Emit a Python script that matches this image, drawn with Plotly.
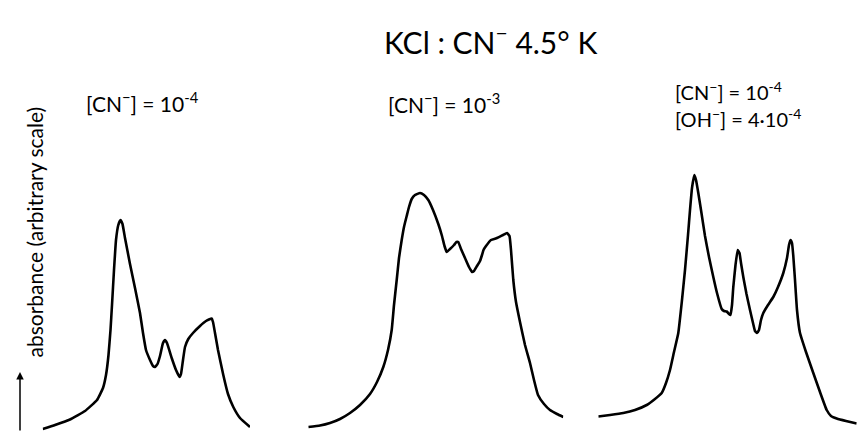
import plotly.graph_objects as go

W, H = 860, 434

# Digitised absorption spectra, one list per sample (position, absorbance),
# both in arbitrary units; position is offset from the start of each trace.
cn_1e4_pos = [0, 12.3, 27.3, 42.3, 54.3, 60.3, 63.3, 65.8, 67.8, 69.3, 71.3, 73.3, 75.6, 77.8, 79.8, 82.3,
              87.3, 92.3, 97.3, 100.3, 103.3, 107.3, 110.3, 112.3, 114.8, 117.3, 120.3, 122.3, 124.3, 129.0,
              133.3, 136.8, 138.3, 140.3, 142.3, 145.6, 150.3, 157.3, 163.3, 169.0, 170.3, 172.3, 175.3,
              180.6, 185.3, 190.6, 197.3, 207.3]
cn_1e4_abs = [0.5, 0.9, 1.45, 2.3, 3.4, 4.6, 5.9, 7.9, 10.4, 12.9, 16.4, 19.4, 20.9, 21.4, 21.0, 19.6,
              17.0, 14.6, 12.1, 10.1, 8.4, 7.4, 6.8, 6.7, 7.0, 7.8, 9.1, 9.4, 9.1, 7.6,
              6.4, 5.7, 6.0, 7.4, 8.7, 9.5, 10.1, 10.8, 11.3, 11.55, 11.2, 10.1, 8.4,
              5.9, 4.0, 2.7, 1.6, 0.7]

cn_1e3_pos = [0, 11.7, 21.7, 31.7, 41.7, 51.7, 61.7, 68.7, 75.0, 79.7, 83.4, 85.7, 88.4, 90.7, 93.4, 95.7,
              98.4, 100.7, 103.4, 106.7, 111.7, 115.7, 120.0, 124.7, 130.0, 133.7, 136.2, 138.4, 141.7,
              145.7, 148.2, 150.0, 152.7, 156.7, 160.7, 163.7, 165.7, 168.7, 171.7, 173.7, 175.2, 177.7,
              182.7, 188.7, 194.7, 198.7, 201.2, 202.7, 205.0, 207.7, 211.7, 216.7, 221.7, 225.7, 229.7,
              235.7, 241.7, 248.7, 255.0]
cn_1e3_abs = [0.7, 0.85, 1.1, 1.5, 2.1, 2.9, 4.0, 5.2, 6.7, 8.4, 10.4, 12.9, 15.4, 17.6, 19.4, 20.7,
              21.8, 22.7, 23.5, 23.9, 24.1, 23.9, 23.4, 22.4, 21.0, 19.8, 18.8, 18.2, 18.5,
              18.9, 19.2, 19.2, 18.5, 17.6, 16.7, 16.2, 16.3, 16.8, 17.3, 17.9, 18.4, 18.8,
              19.4, 19.6, 19.9, 20.1, 19.8, 18.4, 15.4, 13.2, 11.2, 8.9, 7.1, 5.4, 3.9,
              3.0, 2.4, 2.0, 1.7]

cn_oh_pos = [0, 11.7, 25.0, 36.7, 48.4, 56.7, 63.4, 67.7, 71.7, 75.7, 80.0, 83.7, 86.7, 89.7, 91.7, 93.7,
             96.0, 97.7, 100.0, 102.7, 106.7, 110.7, 115.0, 118.7, 123.4, 125.7, 128.4, 130.7, 132.2,
             133.7, 135.0, 137.2, 139.4, 141.2, 142.7, 145.0, 148.2, 151.7, 154.7, 156.7, 158.7, 160.7,
             162.7, 165.0, 169.7, 175.0, 179.7, 185.0, 188.7, 190.7, 192.2, 193.7, 195.0, 196.7, 198.7,
             201.7, 207.7, 215.0, 221.7, 228.4, 232.7, 238.4, 247.7, 258.4]
cn_oh_abs = [1.75, 1.9, 2.1, 2.4, 2.9, 3.5, 4.1, 5.1, 6.4, 8.2, 10.1, 13.4, 16.4, 19.9, 22.4, 24.6,
             25.9, 25.4, 24.1, 22.4, 19.8, 17.7, 15.7, 14.1, 12.5, 12.3, 12.25, 12.0, 11.9,
             12.9, 14.7, 16.9, 18.4, 18.1, 17.1, 15.7, 14.0, 12.4, 11.1, 10.3, 10.1, 10.4,
             11.4, 12.1, 12.9, 13.7, 14.7, 16.1, 17.6, 18.9, 19.4, 19.1, 17.8, 15.4, 12.4,
             10.1, 8.2, 6.1, 4.2, 2.4, 1.8, 1.55, 1.3, 1.05]

# Horizontal extent (in pixels) of each trace's panel
panels = [(42.7, 250.0), (308.3, 563.3), (598.3, 856.7)]
series = [(cn_1e4_pos, cn_1e4_abs), (cn_1e3_pos, cn_1e3_abs), (cn_oh_pos, cn_oh_abs)]

fig = go.Figure()
for i, ((left, right), (xs, ys)) in enumerate(zip(panels, series), start=1):
    ax = "x" if i == 1 else f"x{i}"
    fig.add_trace(go.Scatter(x=xs, y=ys, mode="lines", xaxis=ax, yaxis="y",
                             line=dict(color="black", width=2.6, shape="spline", smoothing=0.35),
                             showlegend=False, hoverinfo="skip"))
    key = "xaxis" if i == 1 else f"xaxis{i}"
    fig.layout[key] = dict(domain=[left / W, right / W], range=[0, right - left],
                           visible=False, fixedrange=True)

fig.update_layout(
    width=W, height=H,
    margin=dict(l=0, r=0, t=0, b=0),
    paper_bgcolor="white", plot_bgcolor="white",
    yaxis=dict(range=[0, 43.4], visible=False, domain=[0, 1]),
)

FONT = "Lato"

def px(x, y):
    return x / W, 1 - y / H

notes = [
    ("KCl : CN<sup>−</sup> 4.5° K", 490, 40, 30, "center"),
    ("[CN<sup>−</sup>] = 10<sup>-4</sup>", 142, 102, 21, "center"),
    ("[CN<sup>−</sup>] = 10<sup>-3</sup>", 444, 103, 21, "center"),
    ("[CN<sup>−</sup>] = 10<sup>-4</sup>", 673, 91, 20, "left"),
    ("[OH<sup>−</sup>] = 4·10<sup>-4</sup>", 673, 118, 20, "left"),
]
for text, x, y, size, align in notes:
    xp, yp = px(x, y)
    fig.add_annotation(text=text, x=xp, y=yp, xref="paper", yref="paper", showarrow=False,
                       xanchor="center" if align == "center" else "left", yanchor="middle",
                       font=dict(family=FONT, size=size, color="black"))

# Vertical axis caption with its upward arrow
xp, yp = px(19, 232)
fig.add_annotation(text="absorbance (arbitrary scale)", x=xp, y=yp, xref="paper", yref="paper",
                   showarrow=False, textangle=-90, font=dict(family=FONT, size=21, color="black"))
xp, yp = px(20, 372)
fig.add_annotation(text="", x=xp, y=yp, xref="paper", yref="paper", showarrow=True,
                   ax=0, ay=60, arrowhead=2, arrowsize=1, arrowwidth=1.5, arrowcolor="black")

fig.write_html("out.html")
